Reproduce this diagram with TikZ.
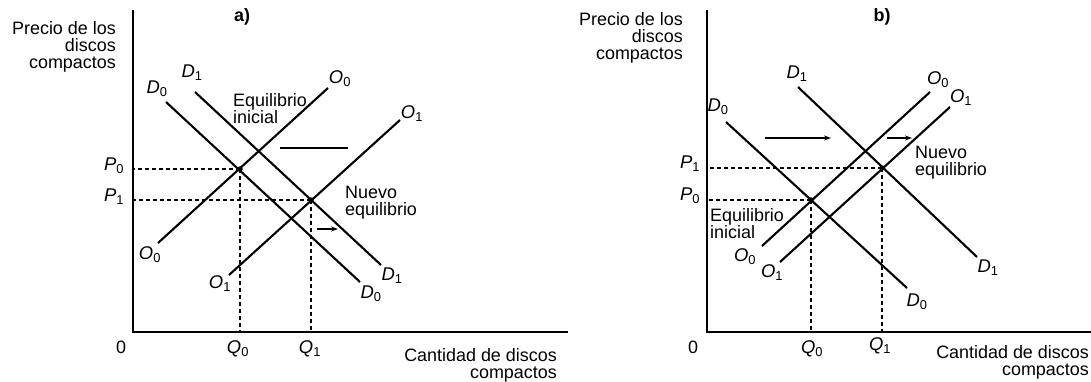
\documentclass[tikz,border=0pt]{standalone}
\usepackage{fontspec}
\setmainfont{Liberation Sans}
\usetikzlibrary{arrows.meta}
\begin{document}
\begin{tikzpicture}[x=1bp,y=-1bp,
  curve/.style={line width=2.1bp},
  axis/.style={line width=2.1bp},
  guide/.style={line width=1.2bp, dash pattern=on 4bp off 3bp},
  lbl/.style={inner sep=0pt, font=\fontsize{18.5}{18}\selectfont},
  txt/.style={inner sep=0pt, font=\fontsize{18}{17}\selectfont},
  eq/.style={circle, fill, inner sep=0pt, minimum size=5.5bp},
  shiftarrow/.style={line width=1.3bp, -{Stealth[length=7bp,width=5bp]}},
  shiftline/.style={line width=1.3bp}
]
\useasboundingbox[fill=white] (0,0) rectangle (1091,381);

% ================= Panel a =================
\coordinate (aO) at (133,332);
\coordinate (aY) at (133,10);
\coordinate (aX) at (568,332);
\draw[axis] (aY) -- (aO) -- (aX);

\node[txt, anchor=north east, align=right] (aYlab) at (116,21) {Precio de los\\discos\\compactos};
\node[txt, anchor=north east, align=right] (aXlab) at (557,348) {Cantidad de discos\\compactos};
\node[txt] (aZero) at (121,347) {0};
\node[txt, font=\fontsize{18}{17}\selectfont\bfseries] (aTitle) at (242,17) {a)};

\coordinate (aD0s) at (166,102); \coordinate (aD0e) at (360,282);
\coordinate (aD1s) at (195,92);  \coordinate (aD1e) at (381,265);
\coordinate (aO0s) at (158,243); \coordinate (aO0e) at (328,88);
\coordinate (aO1s) at (229,275); \coordinate (aO1e) at (400,120);
\draw[curve] (aD0s) -- (aD0e);
\draw[curve] (aD1s) -- (aD1e);
\draw[curve] (aO0s) -- (aO0e);
\draw[curve] (aO1s) -- (aO1e);

\node[eq] (aE0) at (240,169) {};
\node[eq] (aE1) at (311,200) {};
\draw[guide] (aE0.center) -- (aE0.center -| aO);
\draw[guide] (aE0.center) -- (aE0.center |- aO);
\draw[guide] (aE1.center) -- (aE1.center -| aO);
\draw[guide] (aE1.center) -- (aE1.center |- aO);

\node[lbl] (aP0) at (114,166) {\textit{P}\textsubscript{0}};
\node[lbl] (aP1) at (114,197) {\textit{P}\textsubscript{1}};
\node[lbl] (aQ0) at (238,349) {\textit{Q}\textsubscript{0}};
\node[lbl] (aQ1) at (310,349) {\textit{Q}\textsubscript{1}};

\node[lbl] (aD0t) at (157,89) {\textit{D}\textsubscript{0}};
\node[lbl] (aD1t) at (192,73) {\textit{D}\textsubscript{1}};
\node[lbl] (aD0b) at (371,294) {\textit{D}\textsubscript{0}};
\node[lbl] (aD1b) at (392,276) {\textit{D}\textsubscript{1}};
\node[lbl] (aO0t) at (340,79) {\textit{O}\textsubscript{0}};
\node[lbl] (aO1t) at (412,114) {\textit{O}\textsubscript{1}};
\node[lbl] (aO0b) at (150,255) {\textit{O}\textsubscript{0}};
\node[lbl] (aO1b) at (220,284) {\textit{O}\textsubscript{1}};

\node[txt, anchor=north west, align=left] (aEqI) at (233,93) {Equilibrio\\inicial};
\node[txt, anchor=north west, align=left] (aEqN) at (345,186) {Nuevo\\equilibrio};

\coordinate (aS1a) at (280,148); \coordinate (aS1b) at (348,148);
\draw[shiftline] (aS1a) -- (aS1b);
\coordinate (aS2a) at (317,229); \coordinate (aS2b) at (338,229);
\draw[shiftarrow] (aS2a) -- (aS2b);

% ================= Panel b =================
\coordinate (bO) at (707,332);
\coordinate (bY) at (707,10);
\coordinate (bX) at (1091,332);
\draw[axis] (bY) -- (bO) -- (bX);

\node[txt, anchor=north east, align=right] (bYlab) at (683,12) {Precio de los\\discos\\compactos};
\node[txt, anchor=north east, align=right] (bXlab) at (1089,345) {Cantidad de discos\\compactos};
\node[txt] (bZero) at (693,347) {0};
\node[txt, font=\fontsize{18}{17}\selectfont\bfseries] (bTitle) at (882,17) {b)};

\coordinate (bD0s) at (726,122); \coordinate (bD0e) at (907,288);
\coordinate (bD1s) at (798,87);  \coordinate (bD1e) at (977,257);
\coordinate (bO0s) at (762,246); \coordinate (bO0e) at (930,92);
\coordinate (bO1s) at (780,262); \coordinate (bO1e) at (950,107);
\draw[curve] (bD0s) -- (bD0e);
\draw[curve] (bD1s) -- (bD1e);
\draw[curve] (bO0s) -- (bO0e);
\draw[curve] (bO1s) -- (bO1e);

\node[eq] (bE0) at (811,200) {};
\node[eq] (bE1) at (882,168) {};
\draw[guide] (bE0.center) -- (bE0.center -| bO);
\draw[guide] (bE0.center) -- (bE0.center |- bO);
\draw[guide] (bE1.center) -- (bE1.center -| bO);
\draw[guide] (bE1.center) -- (bE1.center |- bO);

\node[lbl] (bP1) at (690,164) {\textit{P}\textsubscript{1}};
\node[lbl] (bP0) at (690,196) {\textit{P}\textsubscript{0}};
\node[lbl] (bQ0) at (812,349) {\textit{Q}\textsubscript{0}};
\node[lbl] (bQ1) at (880,346) {\textit{Q}\textsubscript{1}};

\node[lbl] (bD0t) at (718,107) {\textit{D}\textsubscript{0}};
\node[lbl] (bD1t) at (797,74) {\textit{D}\textsubscript{1}};
\node[lbl] (bD0b) at (917,302) {\textit{D}\textsubscript{0}};
\node[lbl] (bD1b) at (988,268) {\textit{D}\textsubscript{1}};
\node[lbl] (bO0t) at (938,80) {\textit{O}\textsubscript{0}};
\node[lbl] (bO1t) at (961,98) {\textit{O}\textsubscript{1}};
\node[lbl] (bO0b) at (745,257) {\textit{O}\textsubscript{0}};
\node[lbl] (bO1b) at (772,273) {\textit{O}\textsubscript{1}};

\node[txt, anchor=north west, align=left] (bEqN) at (915,146) {Nuevo\\equilibrio};
\node[txt, anchor=north west, align=left] (bEqI) at (710,208) {Equilibrio\\inicial};

\coordinate (bS1a) at (765,138); \coordinate (bS1b) at (831,138);
\draw[shiftarrow] (bS1a) -- (bS1b);
\coordinate (bS2a) at (887,138); \coordinate (bS2b) at (912,138);
\draw[shiftarrow] (bS2a) -- (bS2b);
\end{tikzpicture}
\end{document}
